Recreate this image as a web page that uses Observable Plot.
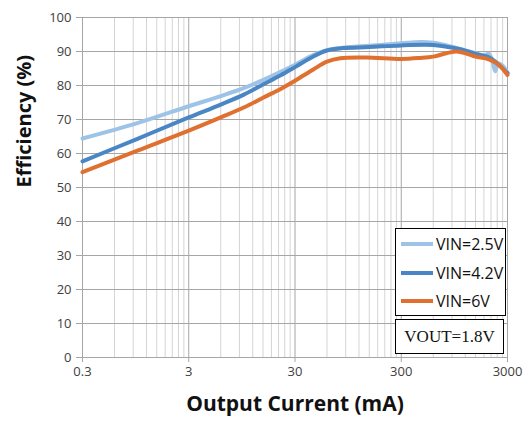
<!DOCTYPE html>
<html>
<head>
<meta charset="utf-8">
<script src="https://cdn.jsdelivr.net/npm/d3@7"></script>
<script src="https://cdn.jsdelivr.net/npm/@observablehq/plot@0.6"></script>
<style>
  html, body { margin: 0; padding: 0; background: #fff; }
  #chart { position: relative; width: 524px; height: 424px; }
  .legend-box {
    position: absolute; background: #fff; border: 1.5px solid #000; box-sizing: border-box;
  }
  .legend-row {
    position: absolute; left: 4px; height: 20px; display: flex; align-items: center;
    font-family: "Open Sans", sans-serif; font-size: 16px; color: #111; white-space: nowrap;
  }
  .legend-row svg { margin-right: 2px; }
  .note {
    font-family: "Liberation Serif", "Times New Roman", serif; font-size: 17px; color: #111;
    display: flex; align-items: center; justify-content: center;
  }
</style>
</head>
<body>
<div id="chart"></div>
<script>
// Efficiency vs output current, VOUT = 1.8 V
const seriesNames = ["VIN=2.5V", "VIN=4.2V", "VIN=6V"];
const seriesColors = ["#9dc3e6", "#4a86c4", "#e07030"];

// VIN = 2.5 V
const iout25 = [0.3, 1, 3, 6, 10, 15, 22, 30, 45, 60, 85, 150, 300, 450, 600, 800, 1000, 1250, 1500, 1800, 2000, 2150, 2300, 2450, 2700, 3000];
const eff25  = [64.4, 69.0, 73.9, 76.9, 79.3, 81.6, 84.0, 86.1, 89.0, 90.4, 91.1, 91.7, 92.4, 92.8, 92.6, 91.8, 91.0, 90.2, 89.5, 88.8, 89.3, 87.5, 84.2, 86.5, 85.8, 83.8];

// VIN = 4.2 V
const iout42 = [0.3, 1, 3, 6, 10, 15, 22, 30, 45, 60, 85, 150, 300, 600, 800, 1000, 1250, 1500, 2000, 2300, 2500, 3000];
const eff42  = [57.7, 64.4, 70.6, 74.4, 77.4, 80.3, 83.0, 85.4, 88.6, 90.3, 91.0, 91.3, 91.8, 91.9, 91.4, 90.9, 90.1, 89.3, 88.3, 87.0, 86.0, 83.6];

// VIN = 6 V
const iout6 = [0.3, 1, 3, 6, 10, 15, 22, 30, 45, 60, 80, 140, 300, 450, 600, 800, 1000, 1250, 1500, 2000, 2500, 3000];
const eff6  = [54.5, 60.9, 66.7, 70.6, 73.6, 76.4, 79.0, 81.4, 84.8, 87.0, 88.0, 88.2, 87.8, 88.1, 88.5, 89.5, 90.0, 89.3, 88.5, 87.7, 86.0, 83.1];

const xTicks = [0.3, 3, 30, 300, 3000];
const xTickLabels = ["0.3", "3", "30", "300", "3000"];
const yTicks = [0, 10, 20, 30, 40, 50, 60, 70, 80, 90, 100];

const seriesX = [iout25, iout42, iout6];
const seriesY = [eff25, eff42, eff6];
const rows = seriesNames.flatMap((name, s) =>
  seriesX[s].map((x, i) => ({series: name, current: x, efficiency: seriesY[s][i]})));

// minor grid: 2..9 times each decade start
const minorGrid = xTicks.slice(0, -1).flatMap(d => d3.range(2, 10).map(k => d * k));

const chart = Plot.plot({
  width: 524,
  height: 424,
  marginLeft: 82,
  marginRight: 17,
  marginTop: 17,
  marginBottom: 67,
  style: {fontFamily: "'Open Sans', sans-serif", fontSize: "13px", color: "#404040", background: "#fff"},
  x: {type: "log", domain: [0.3, 3000], axis: null},
  y: {domain: [0, 100]},
  color: {domain: seriesNames, range: seriesColors},
  marks: [
    Plot.ruleX(minorGrid, {stroke: "#d4d4d4", strokeWidth: 1}),
    // decade gridlines, extended below the frame as tick marks
    Plot.ruleX(xTicks, {stroke: "#a6a6a6", strokeWidth: 1, insetBottom: -5}),
    Plot.ruleY(yTicks, {stroke: "#a6a6a6", strokeWidth: 1}),
    Plot.text(xTicks, {
      x: d => d, text: (d, i) => xTickLabels[i], frameAnchor: "bottom", lineAnchor: "top",
      dy: 9, fill: "#404040", fontSize: 13
    }),
    Plot.axisY(yTicks, {
      tickSize: 6, tickPadding: 5, stroke: "#a6a6a6", label: null
    }),
    Plot.line(rows, {
      x: "current", y: "efficiency", z: "series", stroke: "series",
      strokeWidth: 4, curve: "catmull-rom", strokeLinejoin: "round"
    }),
    Plot.text(["Output Current (mA)"], {
      frameAnchor: "bottom", dy: 53, fontSize: 21, fontWeight: "bold", fill: "#111"
    }),
    Plot.text(["Efficiency (%)"], {
      frameAnchor: "left", dx: -58, rotate: -90, fontSize: 20, fontWeight: "bold", fill: "#111"
    })
  ]
});

const host = document.getElementById("chart");
host.appendChild(chart);

// legend
const box = document.createElement("div");
box.className = "legend-box";
Object.assign(box.style, {left: "395px", top: "228px", width: "111px", height: "88px"});
seriesNames.forEach((name, i) => {
  const row = document.createElement("div");
  row.className = "legend-row";
  row.style.top = (5 + i * 28.5) + "px";
  row.innerHTML = `<svg width="34" height="8"><line x1="1" y1="4" x2="33" y2="4" stroke="${seriesColors[i]}" stroke-width="4"/></svg><span>${name}</span>`;
  box.appendChild(row);
});
host.appendChild(box);

const note = document.createElement("div");
note.className = "legend-box note";
Object.assign(note.style, {left: "395px", top: "319px", width: "109px", height: "35px"});
note.textContent = "VOUT=1.8V";
host.appendChild(note);
</script>
</body>
</html>
